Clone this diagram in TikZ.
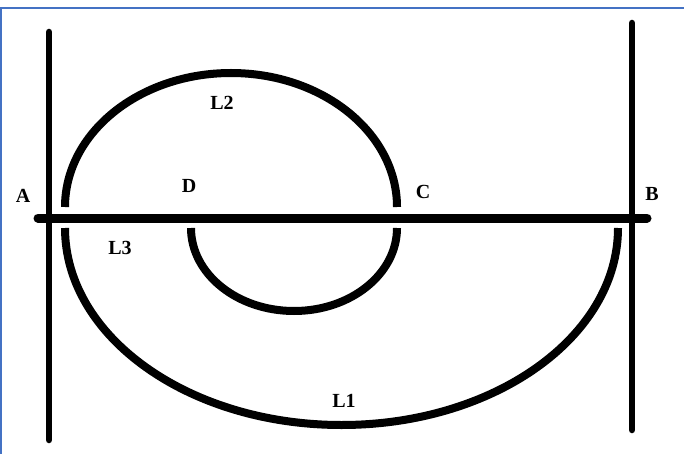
\documentclass[tikz,border=0pt]{standalone}
\usepackage{fontspec}
\setmainfont{Liberation Serif}
\definecolor{frameblue}{RGB}{68,114,196}
\begin{document}
\begin{tikzpicture}[x=1pt,y=-1pt,
  post/.style={line width=6.5pt,line cap=round},
  rail/.style={line width=9pt,line cap=round},
  curve/.style={line width=8pt},
  lbl/.style={font=\bfseries\fontsize{20}{20}\selectfont,inner sep=0pt}]
\useasboundingbox (0,0) rectangle (684,454);
\fill[white] (0,0) rectangle (684,454);
% frame
\coordinate (f0) at (0,8);
\coordinate (f1) at (684,8);
\coordinate (f2) at (1,454);
\draw[frameblue,line width=1.5pt] (f1) -- (f0 -| f2) -- (f2);
% posts
\coordinate (lt) at (49,32);
\coordinate (lb) at (49,440);
\coordinate (rt) at (632,23);
\coordinate (rb) at (632,430);
\draw[post] (lt) -- (lb);
\draw[post] (rt) -- (rb);
% horizontal rail
\coordinate (hA) at (38,218);
\coordinate (hB) at (647,218);
\draw[rail] (hA) -- (hB);
% L2 upper arc
\coordinate (u0) at (65,207);
\draw[curve] (u0) arc[start angle=180,end angle=0,x radius=166pt,y radius=134pt];
% D-C lower arc
\coordinate (d0) at (191,228);
\draw[curve] (d0) arc[start angle=180,end angle=360,x radius=103pt,y radius=83pt];
% L1 big lower arc
\coordinate (b0) at (65,228);
\draw[curve] (b0) arc[start angle=180,end angle=360,x radius=276.5pt,y radius=197pt];
% labels
\node[lbl] (A) at (23,196) {A};
\node[lbl] (D) at (189,186) {D};
\node[lbl] (C) at (423,192) {C};
\node[lbl] (B) at (652,194) {B};
\node[lbl] (L2) at (222,103) {L2};
\node[lbl] (L3) at (120,248) {L3};
\node[lbl] (L1) at (344,401) {L1};
\end{tikzpicture}
\end{document}
